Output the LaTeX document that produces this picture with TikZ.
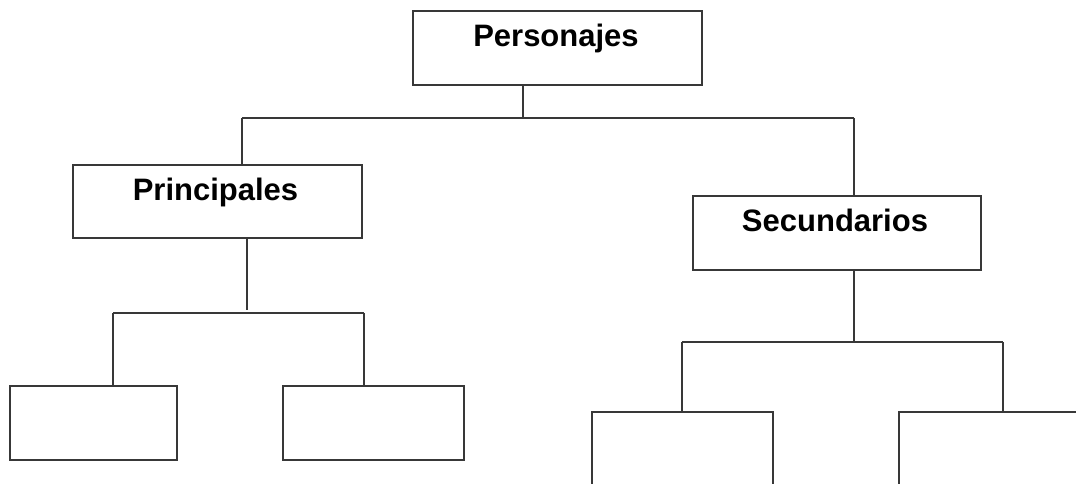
\documentclass[tikz,border=0pt]{standalone}
\usepackage{fontspec}
\setmainfont{Liberation Sans}
\begin{document}
\begin{tikzpicture}[x=1pt,y=-1pt,
  ln/.style={line width=1.6pt,draw=black!78},
  boxn/.style={ln,rectangle,inner sep=0pt,fill=white},
  lbl/.style={anchor=base,inner sep=0pt,font=\fontsize{31}{36}\selectfont\bfseries}]
\useasboundingbox (0,0) rectangle (1076,484);
\clip (0,0) rectangle (1076,484);
% boxes
\node[boxn,minimum width=289pt,minimum height=74pt] (P)  at (557.5,48) {};
\node[boxn,minimum width=289pt,minimum height=73pt] (Pr) at (217.5,201.5) {};
\node[boxn,minimum width=288pt,minimum height=74pt] (S)  at (837,233) {};
\node[boxn,minimum width=167pt,minimum height=74pt] (L1) at (93.5,423) {};
\node[boxn,minimum width=181pt,minimum height=74pt] (L2) at (373.5,423) {};
\node[boxn,minimum width=181pt,minimum height=80pt] (R1) at (682.5,452) {};
\node[boxn,minimum width=185pt,minimum height=80pt] (R2) at (991.5,452) {};
% labels
\node[lbl] (tP)  at ([xshift=-1.5pt,yshift=-36pt]P.north)  {Personajes};
\node[lbl] (tPr) at ([xshift=-2pt,yshift=-36pt]Pr.north) {Principales};
\node[lbl] (tS)  at ([xshift=-2pt,yshift=-36pt]S.north)  {Secundarios};
% level 1 connectors
\coordinate (j1)  at (523,118);
\coordinate (b1L) at (242,118);
\coordinate (b1R) at (854,118);
\draw[ln] (P.south -| j1) -- (j1);
\draw[ln] (b1L) -- (b1R);
\draw[ln] (b1L) -- (b1L |- Pr.north);
\draw[ln] (b1R) -- (b1R |- S.north);
% level 2 left
\coordinate (s2)  at (247,310);
\coordinate (b2L) at (113,313);
\coordinate (b2R) at (364,313);
\draw[ln] (Pr.south -| s2) -- (s2);
\draw[ln] (b2L) -- (b2R);
\draw[ln] (b2L) -- (b2L |- L1.north);
\draw[ln] (b2R) -- (b2R |- L2.north);
% level 2 right
\coordinate (s3)  at (854,342);
\coordinate (b3L) at (682,342);
\coordinate (b3R) at (1003,342);
\draw[ln] (S.south -| s3) -- (s3);
\draw[ln] (b3L) -- (b3R);
\draw[ln] (b3L) -- (b3L |- R1.north);
\draw[ln] (b3R) -- (b3R |- R2.north);
\end{tikzpicture}
\end{document}
